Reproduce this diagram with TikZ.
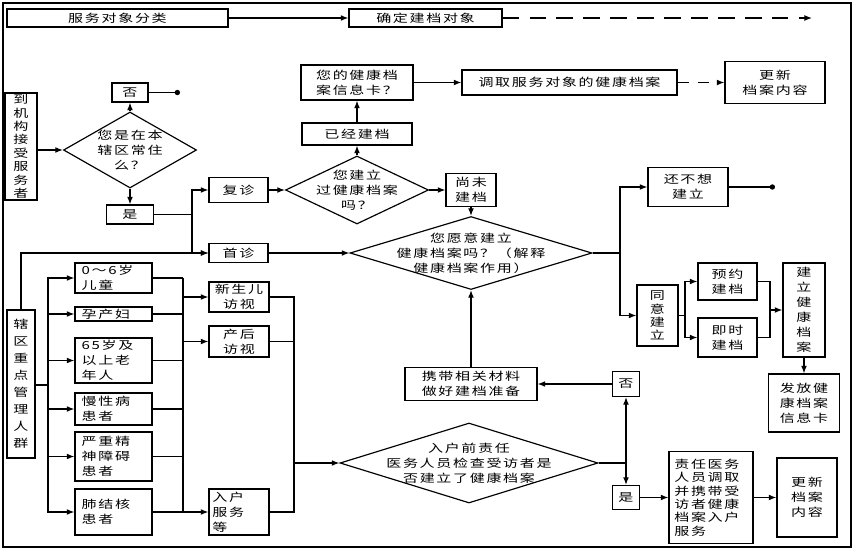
\documentclass[tikz,border=0pt]{standalone}
\usepackage{fontspec}
\setmainfont{Noto Sans CJK SC}[FakeStretch=1.35,LetterSpace=15]
\usetikzlibrary{arrows.meta,shapes.geometric}
\tikzset{
  box/.style={draw,inner sep=1pt,align=center},
  grp/.style={box,minimum width=2.31cm,text width=1.91cm,inner xsep=0.2cm,align=left},
  dmd/.style={draw,shape=diamond,inner sep=0pt},
  dot/.style={-{Circle[length=4.5pt]}},
}

\begin{document}
\begin{tikzpicture}[x=0.03cm,y=-0.03cm,line width=1pt,>={Latex[length=6.5pt,width=5pt]},
    font=\fontsize{9.5pt}{12.8pt}\selectfont]
    \useasboundingbox (0,0) rectangle (858,551);
    \draw[line width=1.5pt] (3,3) rectangle (851,547);

    \node[box,minimum width=6.63cm,minimum height=0.54cm] (fl) at (117.5,18) {服务对象分类};
    \node[box,minimum width=4.59cm,minimum height=0.54cm] (qd) at (425.5,18) {确定建档对象};
    \coordinate (qdend) at (812,18);

    \node[box,minimum width=1.08cm,minimum height=0.57cm] (no1) at (130,92.5) {否};
    \coordinate (dot1) at (180,92.5);
    \node[box,minimum width=0.96cm,minimum height=3.21cm,inner ysep=0pt,
        font=\fontsize{9.5pt}{11.4pt}\selectfont] (djg) at (21,146.5) {到\\机\\构\\接\\受\\服\\务\\者};
    \node[dmd,minimum width=3.99cm,minimum height=2.28cm,
        label={[align=center]center:您是在本\\辖区常住\\么？}] (d1) at (130,150) {};
    \node[box,minimum width=1.41cm,minimum height=0.57cm] (yes1) at (130,214.5) {是};
    \coordinate (sp1) at (192,214.5);
    \node[box,minimum width=1.77cm,minimum height=0.75cm] (fz) at (238.5,190) {复诊};
    \node[box,minimum width=1.77cm,minimum height=0.57cm] (sz) at (238.5,253) {首诊};

    \node[dmd,minimum width=4.29cm,minimum height=2.04cm,
        label={[align=center]center:您建立\\过健康档案\\吗？}] (dA) at (357,190) {};
    \node[box,minimum width=3.3cm,minimum height=0.66cm] (yj) at (357,134) {已经建档};
    \node[box,minimum width=3.36cm,minimum height=1.05cm] (xxk) at (357,82.5) {您的健康档\\案信息卡？};
    \node[box,minimum width=6.45cm,minimum height=0.75cm] (dq) at (569.5,82.5) {调取服务对象的健康档案};
    \node[box,minimum width=3cm,minimum height=1.26cm] (gx1) at (775,82.5) {更新\\档案内容};
    \node[box,minimum width=1.5cm,minimum height=0.99cm] (wj) at (471,190) {尚未\\建档};

    \node[dmd,minimum width=7.26cm,minimum height=2.19cm,
        label={[align=center]center:您愿意建立\\健康档案吗？（解释\\健康档案作用）}] (dB) at (471,253) {};
    \coordinate (sp2) at (620,253);
    \node[box,minimum width=2.4cm,minimum height=1.17cm] (bx) at (688,187) {还不想\\建立};
    \coordinate (dot2) at (775,187);
    \node[box,minimum width=1.23cm,minimum height=1.83cm,
        font=\fontsize{9.5pt}{11.3pt}\selectfont] (ty) at (657.5,315.5) {同\\意\\建\\立};
    \coordinate (sp3) at (685,315.5);
    \node[box,minimum width=1.77cm,minimum height=1.11cm] (yy) at (727.5,281.5) {预约\\建档};
    \node[box,minimum width=1.77cm,minimum height=1.17cm] (js) at (727.5,337.5) {即时\\建档};
    \coordinate (sp4) at (770,310);
    \node[box,minimum width=1.26cm,minimum height=2.82cm] (jl) at (804,310) {建\\立\\健\\康\\档\\案};
    \node[box,minimum width=2.13cm,minimum height=1.74cm] (ff) at (804,403) {发放健\\康档案\\信息卡};

    \node[box,minimum width=0.84cm,minimum height=4.44cm,
        font=\fontsize{9.5pt}{14.5pt}\selectfont] (xq) at (21,384) {辖\\区\\重\\点\\管\\理\\人\\群};
    \coordinate (sp5) at (48,385);
    \node[grp,minimum height=0.9cm] (g1) at (113.5,278) {0～6岁\\儿童};
    \node[grp,minimum height=0.42cm] (g2) at (113.5,314) {孕产妇};
    \node[grp,minimum height=1.35cm] (g3) at (113.5,360.5) {65岁及\\以上老\\年人};
    \node[grp,minimum height=0.96cm] (g4) at (113.5,409) {慢性病\\患者};
    \node[grp,minimum height=1.47cm] (g5) at (113.5,456.5) {严重精\\神障碍\\患者};
    \node[grp,minimum height=1.38cm] (g6) at (113.5,512) {肺结核\\患者};
    \coordinate (b1) at (183,297);
    \coordinate (b2) at (183,341.5);
    \coordinate (b3) at (183,512);
    \node[box,minimum width=1.8cm,minimum height=0.9cm] (xse) at (239,297) {新生儿\\访视};
    \node[box,minimum width=1.8cm,minimum height=0.93cm] (ch) at (239,341.5) {产后\\访视};
    \node[box,minimum width=1.8cm,minimum height=1.38cm,text width=1.6cm,inner xsep=0.1cm,
        align=left] (rh) at (239,512) {入户\\服务\\等};
    \coordinate (sp6) at (294,463);

    \node[dmd,minimum width=7.74cm,minimum height=2.4cm,
        label={[align=center]center:入户前责任\\医务人员检查受访者是\\否建立了健康档案}] (dC) at (469,463) {};
    \coordinate (sp7) at (626,463);
    \node[box,minimum width=0.81cm,minimum height=0.75cm] (no2) at (626,384) {否};
    \node[box,minimum width=3.96cm,minimum height=0.99cm] (xd) at (471,384) {携带相关材料\\做好建档准备};
    \node[box,minimum width=0.81cm,minimum height=0.72cm] (yes2) at (626,497.5) {是};
    \node[box,minimum width=2.52cm,minimum height=2.76cm,text width=2.2cm,inner xsep=0.16cm,
        align=left,font=\fontsize{9.5pt}{11.5pt}\selectfont] (zr) at (711,497.5)
        {责任医务\\人员调取\\并携带受\\访者健康\\档案入户\\服务};
    \node[box,minimum width=1.8cm,minimum height=2.37cm] (gx2) at (807,497.5) {更新\\档案\\内容};

    \draw[->] (fl) -- (qd);
    \draw[->,dash pattern=on 14pt off 9pt] (qd) -- (qdend);
    \draw[->] (djg.east |- d1) -- (d1);
    \draw[->] (d1) -- (no1);
    \draw[dot] (no1) -- (dot1);
    \draw[->] (d1) -- (yes1);
    \draw (yes1) -- (sp1);
    \draw[->] (sp1) |- (fz);
    \draw[->] (sp1) |- (sz);
    \draw[->] (xq) |- (sz);
    \draw[->] (fz) -- (dA);
    \draw[->] (dA) -- (yj);
    \draw[->] (yj) -- (xxk);
    \draw[->] (xxk) -- (dq);
    \draw[->,dash pattern=on 10pt off 7pt] (dq) -- (gx1);
    \draw[->] (dA) -- (wj);
    \draw[->] (wj) -- (dB);
    \draw[->] (sz) -- (dB);
    \draw (dB) -- (sp2);
    \draw[->] (sp2) |- (bx);
    \draw[dot] (bx) -- (dot2);
    \draw[->] (sp2) |- (ty);
    \draw (ty) -- (sp3);
    \draw[->] (sp3) |- (yy);
    \draw[->] (sp3) |- (js);
    \draw (yy) -| (sp4);
    \draw (js) -| (sp4);
    \draw[->] (sp4) -- (jl);
    \draw[->] (jl) -- (ff);

    \draw (xq.east |- sp5) -- (sp5);
    \foreach \g in {g1,g2,g3,g4,g5,g6} {
        \draw[->] (sp5) |- (\g);
        \draw (\g.east) -- (\g.east -| b3);
    }
    \draw (b3 |- g1.east) -- (b3);
    \draw[->] (b1) -- (xse);
    \draw[->] (b2) -- (ch);
    \draw[->] (b3) -- (rh);
    \foreach \n in {xse,ch,rh}
        \draw (\n) -| (sp6);
    \draw[->] (sp6) -- (dC);
    \draw (dC) -- (sp7);
    \draw[->] (sp7) -- (no2);
    \draw[->] (sp7) -- (yes2);
    \draw[->] (no2) -- (xd);
    \draw[->] (xd) -- (dB);
    \draw[->] (yes2) -- (zr);
    \draw[->] (zr) -- (gx2);
\end{tikzpicture}
\end{document}
